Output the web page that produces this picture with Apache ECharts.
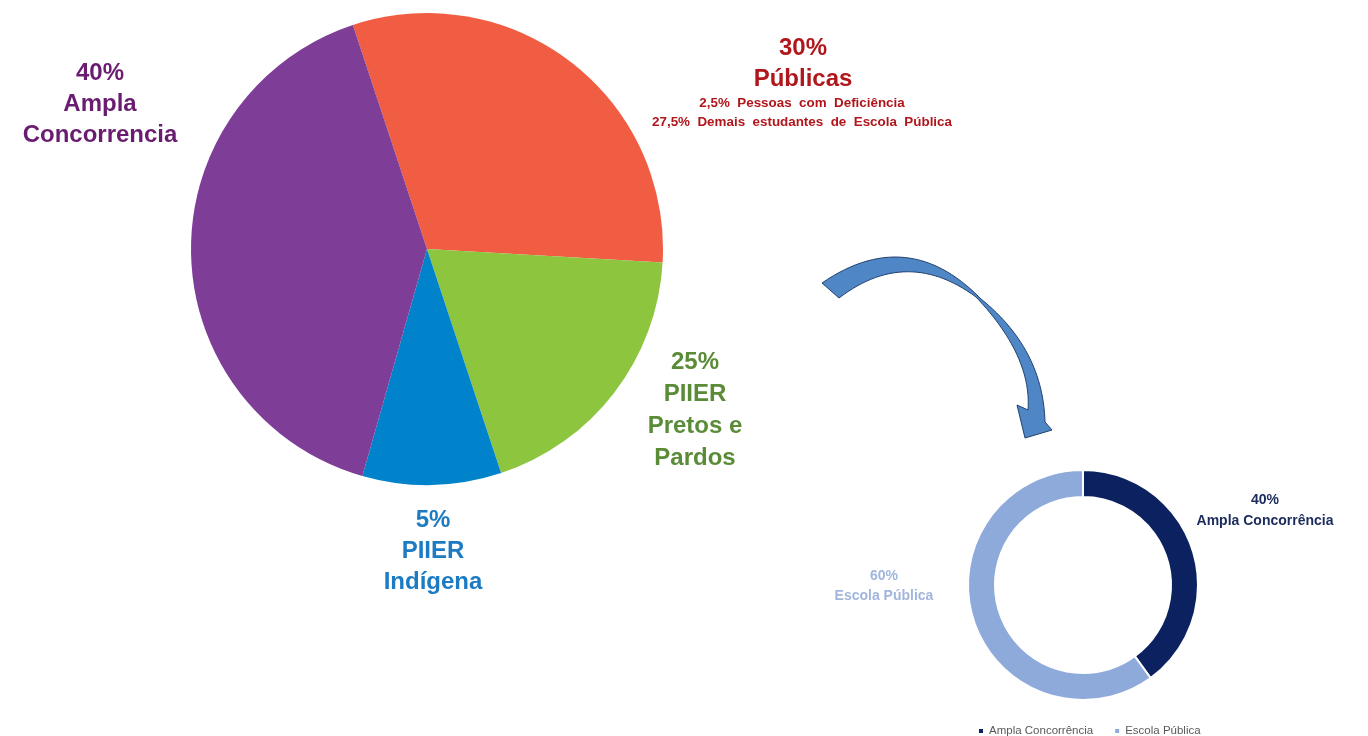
<!DOCTYPE html>
<html>
<head>
<meta charset="utf-8">
<style>
  html, body { margin: 0; padding: 0; background: #ffffff; }
  #chart { width: 1368px; height: 736px; }
</style>
<script src="https://cdn.jsdelivr.net/npm/echarts@6/dist/echarts.min.js"></script>
</head>
<body>
<div id="chart"></div>
<script>
// ---- data ----
const pieNames = ['Públicas', 'PIIER Pretos e Pardos', 'PIIER Indígena', 'Ampla Concorrencia'];
const pieValues = [31, 19, 9.5, 40.5];            // slice sizes as drawn
const pieColors = ['#F15D43', '#8DC53F', '#0083CA', '#7E3D96'];

const donutNames = ['Ampla Concorrência', 'Escola Pública'];
const donutValues = [40, 60];
const donutColors = ['#0C2260', '#8EAADB'];

const labelAmpla = ['40%', 'Ampla', 'Concorrencia'];
const labelPublicas = ['30%', 'Públicas'];
const labelPublicasSub = ['2,5%  Pessoas  com  Deficiência', '27,5%  Demais  estudantes  de  Escola  Pública'];
const labelPretos = ['25%', 'PIIER', 'Pretos e', 'Pardos'];
const labelIndigena = ['5%', 'PIIER', 'Indígena'];
const labelDonutAmpla = ['40%', 'Ampla Concorrência'];
const labelDonutEscola = ['60%', 'Escola Pública'];

// ---- helpers ----
const FF = '"Liberation Sans", Arial, sans-serif';
function block(lines, cx, y0, lh, font, fill) {
  return lines.map((t, i) => ({
    type: 'text',
    x: cx, y: y0 + i * lh,
    silent: true,
    style: { text: t, font: font, fill: fill, align: 'center', verticalAlign: 'middle' }
  }));
}

// curved arrow outline (decoration), built from quadratic curves
function quad(p0, c, p1, n) {
  const out = [];
  for (let i = 0; i <= n; i++) {
    const t = i / n, u = 1 - t;
    out.push([u * u * p0[0] + 2 * u * t * c[0] + t * t * p1[0],
              u * u * p0[1] + 2 * u * t * c[1] + t * t * p1[1]]);
  }
  return out;
}
const arrowPts = [].concat(
  quad([822, 283], [908, 224], [981, 299], 30),
  quad([981, 299], [1043, 349], [1045, 422], 30).slice(1),
  [[1052, 430], [1025, 438], [1017, 405]],
  quad([1028, 410], [1032, 356], [976, 297], 30),
  quad([976, 297], [907, 246], [839, 298], 30).slice(1)
);

const graphics = [].concat(
  block(labelAmpla, 100, 73, 31, 'bold 24px ' + FF, '#6A1D70'),
  block(labelPublicas, 803, 48, 31, 'bold 24px ' + FF, '#B0161B'),
  block(labelPublicasSub, 802, 103, 19, 'bold 13.4px ' + FF, '#B0161B'),
  block(labelPretos, 695, 362, 32, 'bold 24px ' + FF, '#5A8C38'),
  block(labelIndigena, 433, 520, 31, 'bold 24px ' + FF, '#1C7BC2'),
  block(labelDonutAmpla, 1265, 500, 21, 'bold 14px ' + FF, '#1B2B5C'),
  block(labelDonutEscola, 884, 576, 20, 'bold 14px ' + FF, '#A2B6DC'),
  [{
    type: 'polygon',
    silent: true,
    shape: { points: arrowPts },
    style: { fill: '#4F86C6', stroke: '#23426F', lineWidth: 1 }
  }]
);

const chart = echarts.init(document.getElementById('chart'), null, { renderer: 'canvas' });
chart.setOption({
  animation: false,
  backgroundColor: '#ffffff',
  legend: {
    data: donutNames,
    left: 972,
    top: 720,
    icon: 'rect',
    itemWidth: 6,
    itemHeight: 6,
    itemGap: 20,
    textStyle: { fontSize: 11.5, color: '#595959', fontFamily: FF }
  },
  series: [
    {
      type: 'pie',
      center: [427, 249],
      radius: [0, 236],
      startAngle: 108.3,
      clockwise: true,
      label: { show: false },
      labelLine: { show: false },
      emphasis: { disabled: true },
      itemStyle: { borderWidth: 0 },
      data: pieNames.map((n, i) => ({ name: n, value: pieValues[i], itemStyle: { color: pieColors[i] } }))
    },
    {
      type: 'pie',
      center: [1083, 585],
      radius: [88, 115],
      startAngle: 90,
      clockwise: true,
      label: { show: false },
      labelLine: { show: false },
      emphasis: { disabled: true },
      itemStyle: { borderColor: '#ffffff', borderWidth: 2 },
      data: donutNames.map((n, i) => ({ name: n, value: donutValues[i], itemStyle: { color: donutColors[i] } }))
    }
  ],
  graphic: graphics
});
</script>
</body>
</html>
